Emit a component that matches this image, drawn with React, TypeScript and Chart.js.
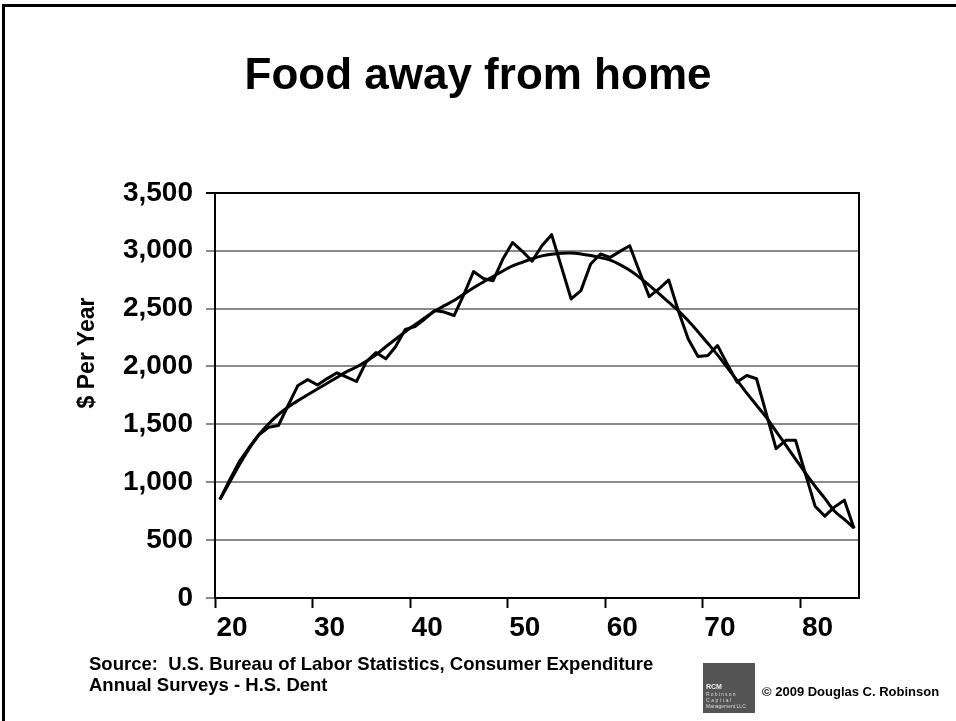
import React, { useEffect, useRef } from "react";
import { Chart, registerables } from "chart.js";

Chart.register(...registerables);

const ages = [
  20, 21, 22, 23, 24, 25, 26, 27, 28, 29,
  30, 31, 32, 33, 34, 35, 36, 37, 38, 39,
  40, 41, 42, 43, 44, 45, 46, 47, 48, 49,
  50, 51, 52, 53, 54, 55, 56, 57, 58, 59,
  60, 61, 62, 63, 64, 65, 66, 67, 68, 69,
  70, 71, 72, 73, 74, 75, 76, 77, 78, 79,
  80, 81, 82, 83, 84, 85,
];

const actualSpend = [
  850, 1020, 1180, 1300, 1410, 1475, 1490, 1665, 1836, 1886,
  1840, 1895, 1945, 1908, 1870, 2040, 2120, 2066, 2170, 2320,
  2345, 2410, 2483, 2470, 2440, 2620, 2820, 2760, 2741, 2928,
  3070, 2995, 2910, 3043, 3138, 2860, 2583, 2655, 2885, 2971,
  2942, 2994, 3043, 2820, 2603, 2670, 2747, 2477, 2238, 2086,
  2095, 2181, 2020, 1865, 1922, 1894, 1592, 1290, 1362, 1362,
  1075, 793, 707, 787, 845, 601,
];

const trendSpend = [
  851, 1000, 1150, 1290, 1410, 1505, 1585, 1650, 1705, 1755,
  1805, 1855, 1905, 1955, 1995, 2045, 2100, 2170, 2235, 2300,
  2360, 2420, 2477, 2525, 2570, 2625, 2680, 2730, 2776, 2825,
  2868, 2900, 2930, 2955, 2970, 2978, 2980, 2972, 2958, 2940,
  2918, 2880, 2830, 2770, 2700, 2630, 2555, 2480, 2395, 2300,
  2200, 2100, 1990, 1880, 1770, 1665, 1560, 1440, 1320, 1200,
  1080, 965, 860, 750, 680, 605,
];

const xTickBounds = [19.5, 29.5, 39.5, 49.5, 59.5, 69.5, 79.5];
const xTickLabels = ["20", "30", "40", "50", "60", "70", "80"];
const yMax = 3500;
const yStep = 500;

const FONT = '"Liberation Sans", Arial, Helvetica, sans-serif';

export default function App() {
  const canvasRef = useRef<HTMLCanvasElement | null>(null);

  useEffect(() => {
    if (!canvasRef.current) return;
    Chart.defaults.font.family = FONT;
    const chart = new Chart(canvasRef.current, {
      type: "line",
      data: {
        datasets: [
          {
            label: "Actual",
            data: ages.map((a, i) => ({ x: a, y: actualSpend[i] })),
            borderColor: "#000",
            borderWidth: 3,
            pointRadius: 0,
            tension: 0,
            borderJoinStyle: "round",
            fill: false,
          },
          {
            label: "Trend",
            data: ages.map((a, i) => ({ x: a, y: trendSpend[i] })),
            borderColor: "#000",
            borderWidth: 3,
            pointRadius: 0,
            tension: 0.4,
            cubicInterpolationMode: "monotone",
            fill: false,
          },
        ],
      },
      options: {
        responsive: false,
        animation: false,
        layout: { padding: 0 },
        plugins: {
          legend: { display: false },
          tooltip: { enabled: false },
          title: {
            display: true,
            text: "Food away from home",
            color: "#000",
            font: { family: FONT, size: 44, weight: "bold" },
            padding: { top: 50, bottom: 90 },
          },
        },
        scales: {
          x: {
            type: "linear",
            min: 19.5,
            max: 85.5,
            afterBuildTicks: (scale: any) => {
              scale.ticks = xTickBounds.map((v) => ({ value: v }));
            },
            afterFit: (scale: any) => {
              scale.height = 123;
            },
            ticks: {
              autoSkip: false,
              maxRotation: 0,
              labelOffset: 17,
              padding: 3,
              color: "#000",
              font: { family: FONT, size: 28, weight: "bold" },
              callback: (_v: any, i: number) => xTickLabels[i],
            },
            grid: {
              drawOnChartArea: false,
              drawTicks: true,
              tickLength: 10,
              tickColor: "#000",
              tickWidth: 2,
            },
            border: { color: "#000", width: 2 },
          },
          y: {
            min: 0,
            max: yMax,
            afterFit: (scale: any) => {
              scale.width = 215;
            },
            ticks: {
              stepSize: yStep,
              padding: 13,
              color: "#000",
              font: { family: FONT, size: 28, weight: "bold" },
              callback: (v: any) => Number(v).toLocaleString("en-US"),
            },
            grid: {
              color: (ctx: any) => (ctx.tick && ctx.tick.value === yMax ? "#000" : "#8a8a8a"),
              tickColor: (ctx: any) => (ctx.tick && ctx.tick.value === yMax ? "#000" : "#8a8a8a"),
              lineWidth: 2,
              tickLength: 9,
            },
            border: { color: "#000", width: 2 },
          },
          yRight: {
            position: "right",
            min: 0,
            max: yMax,
            afterFit: (scale: any) => {
              scale.width = 97;
            },
            ticks: { display: false },
            grid: { drawOnChartArea: false, drawTicks: false },
            border: { color: "#000", width: 2 },
          },
        },
      },
    });
    return () => chart.destroy();
  }, []);

  const textStyle: React.CSSProperties = {
    position: "absolute",
    fontFamily: FONT,
    fontWeight: "bold",
    color: "#000",
    whiteSpace: "nowrap",
  };

  return (
    <div
      style={{
        position: "fixed",
        left: 0,
        top: 0,
        width: 956,
        height: 721,
        overflow: "hidden",
        background: "#fff",
      }}
    >
      <canvas ref={canvasRef} width={956} height={721} style={{ position: "absolute", left: 0, top: 0 }} />
      <div
        style={{
          position: "absolute",
          left: 2,
          top: 4,
          width: 2000,
          height: 2000,
          borderLeft: "3px solid #000",
          borderTop: "3px solid #000",
          pointerEvents: "none",
        }}
      />
      <div
        style={{
          ...textStyle,
          left: 86,
          top: 353,
          fontSize: 23,
          transform: "translate(-50%, -50%) rotate(-90deg)",
        }}
      >
        $ Per Year
      </div>
      <div style={{ ...textStyle, left: 89, top: 653, fontSize: 18.5, lineHeight: "21px" }}>
        Source:&nbsp; U.S. Bureau of Labor Statistics, Consumer Expenditure
        <br />
        Annual Surveys - H.S. Dent
      </div>
      <div
        style={{
          position: "absolute",
          left: 703,
          top: 663,
          width: 52,
          height: 50,
          background: "#545454",
          fontFamily: FONT,
          color: "#d8d8d8",
          overflow: "hidden",
        }}
      >
        <div style={{ position: "absolute", left: 3, top: 20, fontSize: 7, fontWeight: "bold", color: "#eee" }}>RCM</div>
        <div style={{ position: "absolute", left: 3, top: 28, fontSize: 5, letterSpacing: 1.2 }}>Robinson</div>
        <div style={{ position: "absolute", left: 3, top: 34, fontSize: 5, letterSpacing: 1.6 }}>Capital</div>
        <div style={{ position: "absolute", left: 3, top: 40, fontSize: 5 }}>Management LLC</div>
      </div>
      <div style={{ ...textStyle, left: 762, top: 684, fontSize: 13 }}>© 2009 Douglas C. Robinson</div>
    </div>
  );
}
